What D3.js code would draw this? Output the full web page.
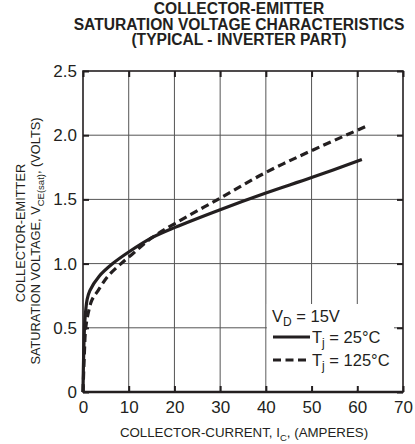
<!DOCTYPE html>
<html><head><meta charset="utf-8">
<script src="https://cdn.jsdelivr.net/npm/d3@7"></script>
<style>body{margin:0;background:#fff}svg{display:block}text{font-family:"Liberation Sans",Arial,sans-serif;fill:#231f20}</style>
</head><body>
<svg id="c" width="415" height="444"></svg>
<script>
const titleLines = ["COLLECTOR-EMITTER","SATURATION VOLTAGE CHARACTERISTICS","(TYPICAL - INVERTER PART)"];
const xTicks = [0,10,20,30,40,50,60,70];
const yTicks = [0,0.5,1.0,1.5,2.0,2.5];
const yTickLabels = ["0","0.5","1.0","1.5","2.0","2.5"];
const ic25 = [0,0.15,0.4,0.9,1.5,3.5,6.5,10,15,20,30,40,50,61];
const vce25 = [0,0.3,0.55,0.72,0.79,0.9,1.0,1.09,1.2,1.28,1.42,1.55,1.67,1.81];
const ic125 = [0,0.3,0.6,1.3,2,3.3,5.4,8,11,15,20,30,40,50,62];
const vce125 = [0,0.3,0.5,0.64,0.72,0.79,0.9,0.99,1.08,1.2,1.31,1.51,1.71,1.88,2.07];

const svg = d3.select("#c");
const L=83,R=403,T=71,B=392;
const x = d3.scaleLinear().domain([0,70]).range([L,R]);
const y = d3.scaleLinear().domain([0,2.5]).range([B,T]);

// title
svg.append("g").selectAll("text").data(titleLines).join("text")
  .attr("x",239).attr("y",(d,i)=>14+i*15.5).attr("text-anchor","middle")
  .attr("font-size",15.6).attr("font-weight","bold").text(d=>d);

// grid
const g = svg.append("g");
g.selectAll(".vg").data(xTicks.slice(1,-1)).join("line")
  .attr("x1",d=>x(d)).attr("x2",d=>x(d)).attr("y1",T).attr("y2",B)
  .attr("stroke","#555").attr("stroke-width",1);
g.selectAll(".hg").data(yTicks.slice(1,-1)).join("line")
  .attr("x1",L).attr("x2",R).attr("y1",d=>y(d)).attr("y2",d=>y(d))
  .attr("stroke","#555").attr("stroke-width",1);

// legend background
svg.append("rect").attr("x",x(40)+1).attr("y",304).attr("width",R-x(40)-10).attr("height",B-304-2).attr("fill","#fff");

// axes with inward ticks
const ax = d3.axisBottom(x).tickValues(xTicks).tickSize(-6).tickPadding(9).tickFormat(d3.format("d"));
const axT = d3.axisTop(x).tickValues(xTicks).tickSize(-6).tickFormat("");
const ay = d3.axisLeft(y).tickValues(yTicks).tickSize(-6).tickPadding(6).tickFormat((d,i)=>yTickLabels[i]);
const ayR = d3.axisRight(y).tickValues(yTicks).tickSize(-6).tickFormat("");
function style(sel){sel.select(".domain").remove();sel.selectAll(".tick line").attr("stroke","#231f20").attr("stroke-width",2);
  sel.selectAll("text").attr("font-size",17).attr("font-family","Liberation Sans, Arial, sans-serif").attr("fill","#231f20");}
svg.append("g").attr("transform",`translate(0,${B})`).call(ax).call(style);
svg.append("g").attr("transform",`translate(0,${T})`).call(axT).call(style);
svg.append("g").attr("transform",`translate(${L},0)`).call(ay).call(style);
svg.append("g").attr("transform",`translate(${R},0)`).call(ayR).call(style);

// frame
svg.append("rect").attr("x",L).attr("y",T).attr("width",R-L).attr("height",B-T)
  .attr("fill","none").attr("stroke","#231f20").attr("stroke-width",1.6);
svg.append("line").attr("x1",L).attr("x2",R).attr("y1",B).attr("y2",B).attr("stroke","#231f20").attr("stroke-width",2.6);

// curves
const line = d3.line().x(d=>x(d[0])).y(d=>y(d[1])).curve(d3.curveCatmullRom.alpha(0.5));
svg.append("path").datum(ic25.map((v,i)=>[v,vce25[i]])).attr("d",line)
  .attr("fill","none").attr("stroke","#231f20").attr("stroke-width",3.2);
svg.append("path").datum(ic125.map((v,i)=>[v,vce125[i]])).attr("d",line)
  .attr("fill","none").attr("stroke","#231f20").attr("stroke-width",3.2).attr("stroke-dasharray","8,4.5");

// legend
const lg = svg.append("g");
const t1 = lg.append("text").attr("x",272).attr("y",322).attr("font-size",16.5);
t1.append("tspan").text("V");
t1.append("tspan").attr("font-size",12).attr("dy",4).text("D");
t1.append("tspan").attr("dy",-4).text(" = 15V");
lg.append("line").attr("x1",273).attr("x2",310).attr("y1",337).attr("y2",337).attr("stroke","#231f20").attr("stroke-width",3.2);
lg.append("line").attr("x1",273).attr("x2",310).attr("y1",360).attr("y2",360).attr("stroke","#231f20").attr("stroke-width",3.2).attr("stroke-dasharray","8,4.5");
[["25°C",343],["125°C",366]].forEach(([lab,yy])=>{
  const t = lg.append("text").attr("x",312).attr("y",yy).attr("font-size",16.5);
  t.append("tspan").text("T");
  t.append("tspan").attr("font-size",12).attr("dy",4).text("j");
  t.append("tspan").attr("dy",-4).text(" = "+lab);
});

// axis titles
const xl = svg.append("text").attr("x",244).attr("y",437).attr("text-anchor","middle").attr("font-size",13.3).attr("fill","#333");
xl.append("tspan").text("COLLECTOR-CURRENT, I");
xl.append("tspan").attr("font-size",9.5).attr("dy",3.5).text("C");
xl.append("tspan").attr("dy",-3.5).text(", (AMPERES)");

const yl = svg.append("g").attr("transform","rotate(-90)");
yl.append("text").attr("x",-233).attr("y",25).attr("text-anchor","middle").attr("font-size",12.8).attr("fill","#333").text("COLLECTOR-EMITTER");
const yl2 = yl.append("text").attr("x",-241).attr("y",40).attr("text-anchor","middle").attr("font-size",12.8).attr("fill","#333");
yl2.append("tspan").text("SATURATION VOLTAGE, V");
yl2.append("tspan").attr("font-size",9.5).attr("dy",3.5).text("CE(sat)");
yl2.append("tspan").attr("dy",-3.5).text(", (VOLTS)");
</script>
</body></html>
